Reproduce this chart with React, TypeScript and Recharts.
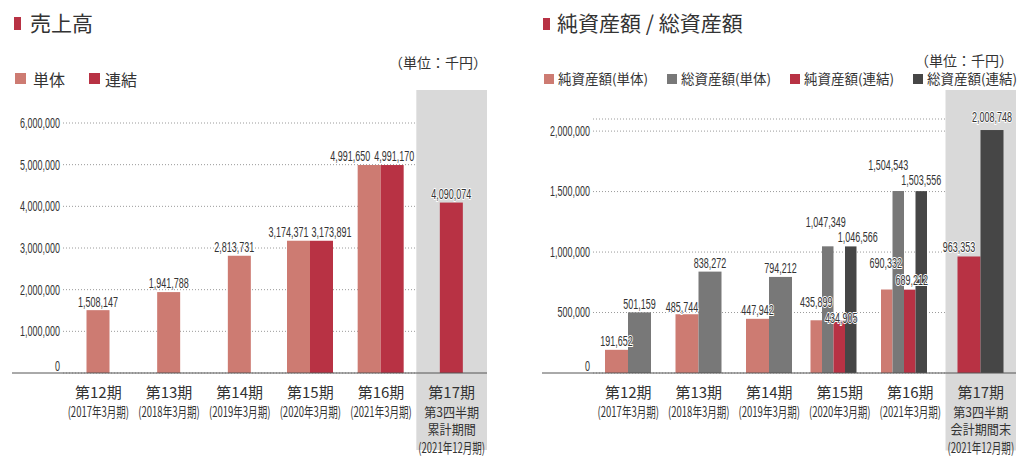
import React from 'react';
import { BarChart, Bar, XAxis, YAxis, CartesianGrid, ReferenceArea, LabelList } from 'recharts';

// periods (x categories)
const PERIODS = ['第12期', '第13期', '第14期', '第15期', '第16期', '第17期'];
const SALES_SUB = [
  ['(2017年3月期)'],
  ['(2018年3月期)'],
  ['(2019年3月期)'],
  ['(2020年3月期)'],
  ['(2021年3月期)'],
  ['第3四半期', '累計期間', '(2021年12月期)'],
];
const ASSET_SUB = [
  ['(2017年3月期)'],
  ['(2018年3月期)'],
  ['(2019年3月期)'],
  ['(2020年3月期)'],
  ['(2021年3月期)'],
  ['第3四半期', '会計期間末', '(2021年12月期)'],
];

// 売上高 (千円)
const SALES_SOLO = [1508147, 1941788, 2813731, 3174371, 4991650, null];
const SALES_CONS = [null, null, null, 3173891, 4991170, 4090074];
const SALES_TICKS = [0, 1000000, 2000000, 3000000, 4000000, 5000000, 6000000];

// 純資産額 / 総資産額 (千円)
const NET_SOLO = [191652, 485744, 447942, 435899, 690332, null];
const TOTAL_SOLO = [501159, 838272, 794212, 1047349, 1504543, null];
const NET_CONS = [null, null, null, 434905, 689212, 963353];
const TOTAL_CONS = [null, null, null, 1046566, 1503556, 2008748];
const ASSET_TICKS = [0, 500000, 1000000, 1500000, 2000000];

const C_SOLO = '#cd7b72';
const C_CONS = '#b83244';
const C_GRAY = '#787878';
const C_DARK = '#464646';
const TXT = '#333';
const NUM_FONT = "'Liberation Sans', Arial, sans-serif";
const CJK_FONT = "'Noto Sans CJK JP', sans-serif";
const NUM_SIZE = 15;
const NUM_SCALE = 0.6;

const salesData = PERIODS.map((p, i) => ({ period: p, salesSolo: SALES_SOLO[i], salesCons: SALES_CONS[i] }));
const assetData = PERIODS.map((p, i) => ({
  period: p,
  netSolo: NET_SOLO[i],
  totalSolo: TOTAL_SOLO[i],
  netCons: NET_CONS[i],
  totalCons: TOTAL_CONS[i],
}));

const SALES_KEYS = ['salesSolo', 'salesCons'];
const ASSET_KEYS = ['netSolo', 'totalSolo', 'netCons', 'totalCons'];

// label nudges [dx, dy] where the original moved labels apart
const NUDGE: Record<string, [number, number]> = {
  'salesSolo-2': [-5, 0],
  'salesSolo-3': [-10, 0],
  'salesCons-3': [10, 0],
  'salesSolo-4': [-19, 0],
  'salesCons-4': [2, 0],
  'netSolo-1': [-5, 1],
  'netSolo-3': [0, -10],
  'netCons-3': [2, 6],
  'totalSolo-3': [-2, -16],
  'totalCons-3': [7, -1],
  'netSolo-4': [-1, -18],
  'netCons-4': [2, -1],
  'totalSolo-4': [-10, -17],
  'totalCons-4': [0, -2],
  'netCons-5': [-10, -1],
  'totalCons-5': [0, -4],
};

const fmt = (v: number) => v.toLocaleString('en-US');

// bars only take the slots of the series present in that period, centred on the period
const barGeo = (row: any, keys: string[], key: string, slotX: number, slotW: number) => {
  const i = keys.indexOf(key);
  const c = slotX + slotW * (keys.length / 2 - i);
  const present = keys.filter((k) => row[k] != null);
  const k = present.indexOf(key);
  const n = present.length;
  const w = n > 2 ? 11.5 : 23;
  const shift = n > 2 ? -6 : 0;
  return { x: c + shift - (n * w) / 2 + k * w, w };
};

const makeShape = (rows: any[], keys: string[], key: string) => (props: any) => {
  const row = props.payload ?? rows[props.index];
  if (!row || row[key] == null || !(props.height > 0)) return <g />;
  const g = barGeo(row, keys, key, props.x, props.width);
  return <rect x={g.x} y={props.y} width={g.w} height={props.height} fill={props.fill} />;
};

const makeLabel = (rows: any[], keys: string[], key: string) => (props: any) => {
  const vb = props.viewBox && props.viewBox.width != null ? props.viewBox : props;
  const idx = rows.findIndex((r) => r[key] != null && r[key] === Number(props.value));
  if (idx < 0) return null;
  const row = rows[idx];
  const g = barGeo(row, keys, key, vb.x, vb.width);
  const [dx, dy] = NUDGE[`${key}-${idx}`] || [0, 0];
  const cx = g.x + g.w / 2 + dx;
  const cy = vb.y - 8.5 + dy;
  return (
    <text
      transform={`translate(${cx},${cy}) scale(${NUM_SCALE},1)`}
      textAnchor="middle"
      dominantBaseline="central"
      fontFamily={NUM_FONT}
      fontSize={NUM_SIZE}
      fill={TXT}
      stroke="#fff"
      strokeWidth={2}
      paintOrder="stroke"
    >
      {fmt(row[key])}
    </text>
  );
};

const yTick = (props: any) => {
  const { x, y, payload } = props;
  const isZero = payload.value === 0;
  return (
    <g>
      {isZero && <line x1={x - 48} x2={x + 3} y1={y} y2={y} stroke="#555" strokeWidth={1} />}
      <text
        transform={`translate(${x},${isZero ? y - 7 : y}) scale(${NUM_SCALE},1)`}
        textAnchor="end"
        dominantBaseline="central"
        fontFamily={NUM_FONT}
        fontSize={NUM_SIZE}
        fill={TXT}
      >
        {fmt(payload.value)}
      </text>
    </g>
  );
};

const makeXTick = (subs: string[][]) => (props: any) => {
  const { x, y, payload } = props;
  const idx = PERIODS.indexOf(payload.value);
  const lines = subs[idx] || [];
  const ys = [38, 55, 74];
  return (
    <g>
      <text x={x} y={y + 18} textAnchor="middle" dominantBaseline="central" fontFamily={CJK_FONT} fontSize={15} fill={TXT}>
        {payload.value}
      </text>
      {lines.map((t, i) => {
        const paren = t.startsWith('(');
        return (
          <text
            key={i}
            transform={`translate(${x},${y + ys[i]}) scale(${paren ? 0.68 : 0.93},1)`}
            textAnchor="middle"
            dominantBaseline="central"
            fontFamily={CJK_FONT}
            fontSize={paren ? 14 : 13}
            fill={TXT}
          >
            {t}
          </text>
        );
      })}
    </g>
  );
};

const Square = ({ left, top, color, size = 11 }: any) => (
  <div style={{ position: 'absolute', left, top, width: size, height: size, background: color }} />
);

const Txt = ({ left, top, size, children }: any) => (
  <div style={{ position: 'absolute', left, top, fontSize: size, lineHeight: `${size}px`, whiteSpace: 'nowrap', color: TXT, fontFamily: CJK_FONT }}>
    {children}
  </div>
);

export default function App() {
  return (
    <div style={{ position: 'absolute', left: 0, top: 0, width: 1024, height: 460, background: '#fff', overflow: 'hidden' }}>
      {/* headers */}
      <div style={{ position: 'absolute', left: 14, top: 17, width: 7, height: 13, background: C_CONS }} />
      <Txt left={30} top={12} size={21}>売上高</Txt>
      <Txt left={389} top={55} size={14}>（単位：千円）</Txt>
      <Square left={15} top={73} color={C_SOLO} />
      <Txt left={33} top={71} size={16}>単体</Txt>
      <Square left={89} top={73} color={C_CONS} />
      <Txt left={105} top={71} size={16}>連結</Txt>

      <div style={{ position: 'absolute', left: 543, top: 18, width: 7, height: 12, background: C_CONS }} />
      <Txt left={557} top={12} size={21}>純資産額 / 総資産額</Txt>
      <Txt left={915} top={53} size={14}>（単位：千円）</Txt>
      <Square left={544} top={74} size={10} color={C_SOLO} />
      <Txt left={558} top={72} size={13.5}>純資産額(単体)</Txt>
      <Square left={667} top={74} size={10} color={C_GRAY} />
      <Txt left={681} top={72} size={13.5}>総資産額(単体)</Txt>
      <Square left={790} top={74} size={10} color={C_CONS} />
      <Txt left={804} top={72} size={13.5}>純資産額(連結)</Txt>
      <Square left={913} top={74} size={10} color={C_DARK} />
      <Txt left={927} top={72} size={13.5}>総資産額(連結)</Txt>

      {/* 売上高 */}
      <div style={{ position: 'absolute', left: 0, top: 0 }}>
        <BarChart width={512} height={460} data={salesData} margin={{ top: 123, right: 25, bottom: 0, left: 0 }} barGap={0} barSize={10}>
          <ReferenceArea x1="第17期" x2="第17期" y1={-1848000} y2={6792000} fill="#d9d9d9" fillOpacity={1} stroke="none" ifOverflow="visible" />
          <CartesianGrid vertical={false} stroke="#9a9a9a" strokeDasharray="1 2" />
          <XAxis dataKey="period" height={87} interval={0} tickSize={0} tickMargin={0} tickLine={false} axisLine={{ stroke: '#555' }} tick={makeXTick(SALES_SUB)} />
          <YAxis type="number" domain={[0, 6000000]} ticks={SALES_TICKS} width={63} tickSize={0} tickMargin={3} tickLine={false} axisLine={false} tick={yTick} />
          {SALES_KEYS.map((k) => (
            <Bar key={k} dataKey={k} fill={k === 'salesSolo' ? C_SOLO : C_CONS} shape={makeShape(salesData, SALES_KEYS, k)} isAnimationActive={false}>
              <LabelList dataKey={k} content={makeLabel(salesData, SALES_KEYS, k)} />
            </Bar>
          ))}
        </BarChart>
      </div>

      {/* 純資産額 / 総資産額 */}
      <div style={{ position: 'absolute', left: 512, top: 0 }}>
        <BarChart width={512} height={460} data={assetData} margin={{ top: 119, right: 8, bottom: 0, left: 0 }} barGap={0} barSize={10}>
          <ReferenceArea x1="第17期" x2="第17期" y1={-640000} y2={2340000} fill="#d9d9d9" fillOpacity={1} stroke="none" ifOverflow="visible" />
          <CartesianGrid vertical={false} stroke="#9a9a9a" strokeDasharray="1 2" />
          <XAxis dataKey="period" height={87} interval={0} tickSize={0} tickMargin={0} tickLine={false} axisLine={{ stroke: '#555' }} tick={makeXTick(ASSET_SUB)} />
          <YAxis type="number" domain={[0, 2100000]} ticks={ASSET_TICKS} width={81} tickSize={0} tickMargin={3} tickLine={false} axisLine={false} tick={yTick} />
          {ASSET_KEYS.map((k, i) => (
            <Bar key={k} dataKey={k} fill={[C_SOLO, C_GRAY, C_CONS, C_DARK][i]} shape={makeShape(assetData, ASSET_KEYS, k)} isAnimationActive={false}>
              <LabelList dataKey={k} content={makeLabel(assetData, ASSET_KEYS, k)} />
            </Bar>
          ))}
        </BarChart>
      </div>
    </div>
  );
}
